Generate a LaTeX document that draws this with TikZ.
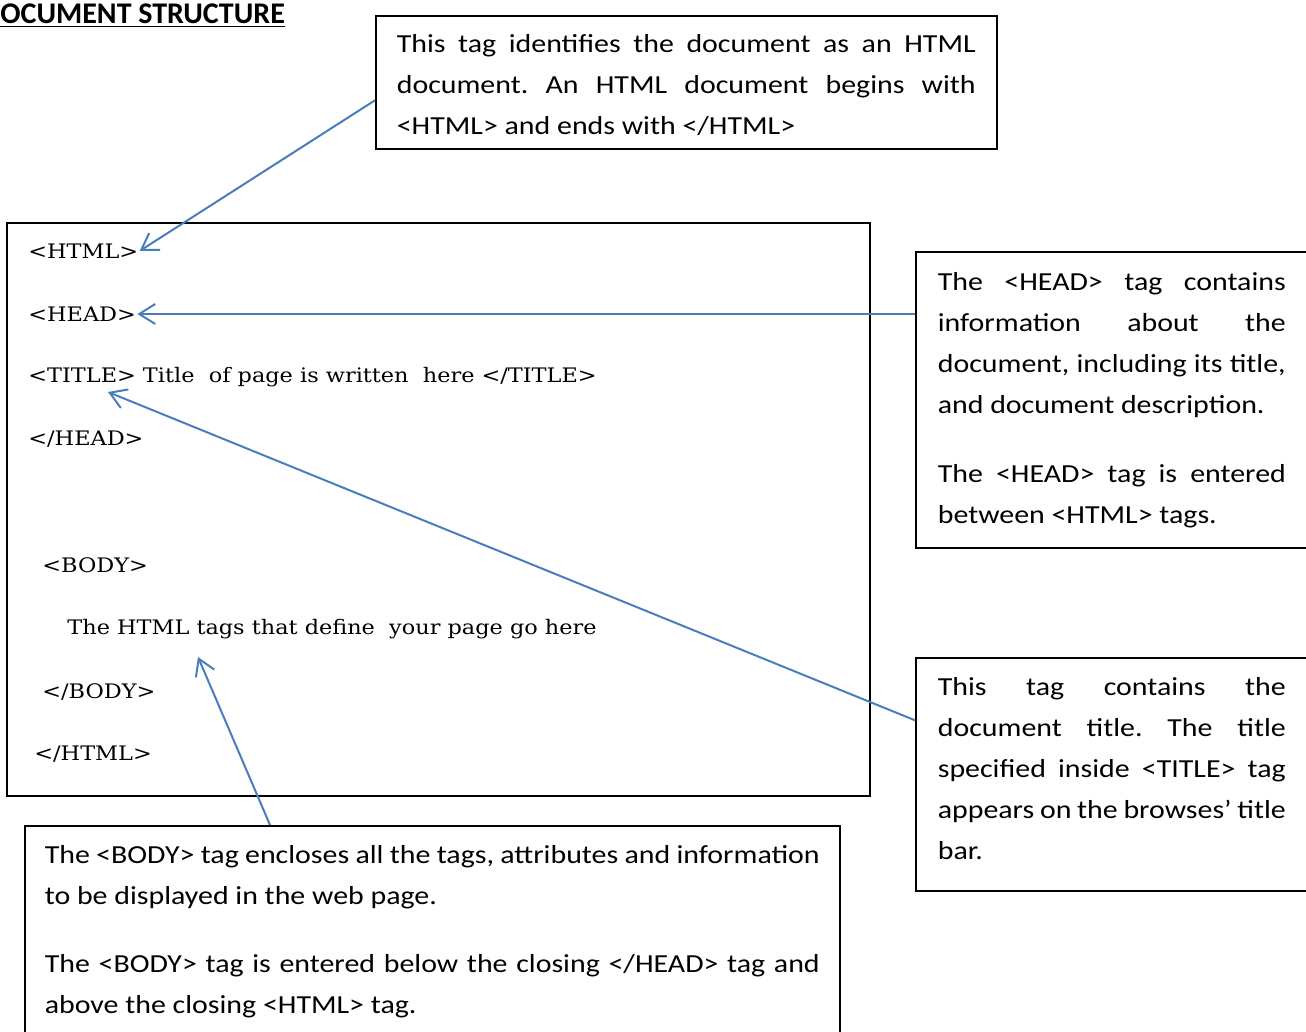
\documentclass[tikz,border=0pt]{standalone}
\usepackage{fontspec}
\setmainfont{Carlito}
\newfontfamily\notefont[FakeStretch=1.15]{Carlito}
\newfontfamily\codefont[FakeStretch=1.12]{DejaVu Serif}
\usetikzlibrary{arrows.meta,positioning}

\definecolor{arrowblue}{HTML}{4A7EBB}

% extra room below the last line of a note
\newcommand\notepad[1]{\par\kern#1\nointerlineskip\hbox{}}

\tikzset{
  note/.style={draw,line width=0.8pt,anchor=north west,align=justify,
    inner xsep=11pt,font=\notefont\fontsize{13pt}{20.5pt}\selectfont\frenchspacing},
  tagline/.style={anchor=west,inner sep=0pt,font=\codefont\fontsize{10pt}{12pt}\selectfont},
  pointer/.style={draw=arrowblue,line width=1pt,-{Straight Barb[length=8pt,width=10pt]}},
}

\begin{document}
\begin{tikzpicture}[x=0.5pt,y=-0.5pt]
\clip (0,0) rectangle (1306,1032);

% heading (cut at the left margin)
\node[anchor=west,inner sep=0pt,font=\bfseries\fontsize{15pt}{18pt}\selectfont] (heading) at (0,16) {\underline{OCUMENT STRUCTURE}};

% the page skeleton
\draw[line width=0.8pt] (7,223) rectangle (870,796);
\node[tagline] (htmltag) at (28,251) {<HTML>};
\node[tagline] (headtag) at (28,314) {<HEAD>};
\node[tagline] (titleline) at (28,377) {<TITLE> Title\ \ of page is written\ \ here </TITLE>};
\node[tagline] (headend) at (28,439) {</HEAD>};
\node[tagline] (bodytag) at (42,565) {<BODY>};
\node[tagline] (pagetext) at (67,629) {The HTML tags that define\ \ your page go here};
\node[tagline] (bodyend) at (42,692) {</BODY>};
\node[tagline] (htmlend) at (34,754) {</HTML>};

% explanations
\node[note,text width=289.5pt,minimum height=66.5pt,inner xsep=10.5pt] (htmlnote) at (375,15)
  {This tag identifies the document as an HTML\linebreak
   document. An HTML document begins with\linebreak
   <HTML> and ends with </HTML>\notepad{-3pt}};

\node[note,text width=174pt,minimum height=148pt] (headnote) at (915,251)
  {The <HEAD> tag contains\linebreak
   information about the\linebreak
   document, including its title,\linebreak
   and document description.\par\vspace{14pt}
   The <HEAD> tag is entered\linebreak
   between <HTML> tags.};

\node[note,text width=174pt,minimum height=116.5pt] (titlenote) at (915,657)
  {This tag contains the\linebreak
   document title. The title\linebreak
   specified inside <TITLE> tag\linebreak
   appears on the browses’ title\linebreak
   bar.\notepad{6pt}};

\node[note,text width=387.5pt,minimum height=112.5pt,inner xsep=10pt] (bodynote) at (24,825)
  {The <BODY> tag encloses all the tags, attributes and information\linebreak
   to be displayed in the web page.\par\vspace{13.5pt}
   The <BODY> tag is entered below the closing </HEAD> tag and\linebreak
   above the closing <HTML> tag.\notepad{7pt}};

% pointers
\draw[pointer] ([yshift=-9pt]htmlnote.west) -- ([xshift=0.5pt]htmltag.east);
\draw[pointer] (headnote.west |- headtag.east) -- ([xshift=0.5pt]headtag.east);
\draw[pointer] ([yshift=27pt]titlenote.west) -- ([xshift=40pt,yshift=-7.5pt]titleline.west);
\draw[pointer] ([xshift=123pt]bodynote.north west) -- ([xshift=65.5pt,yshift=-14pt]pagetext.west);
\end{tikzpicture}
\end{document}
